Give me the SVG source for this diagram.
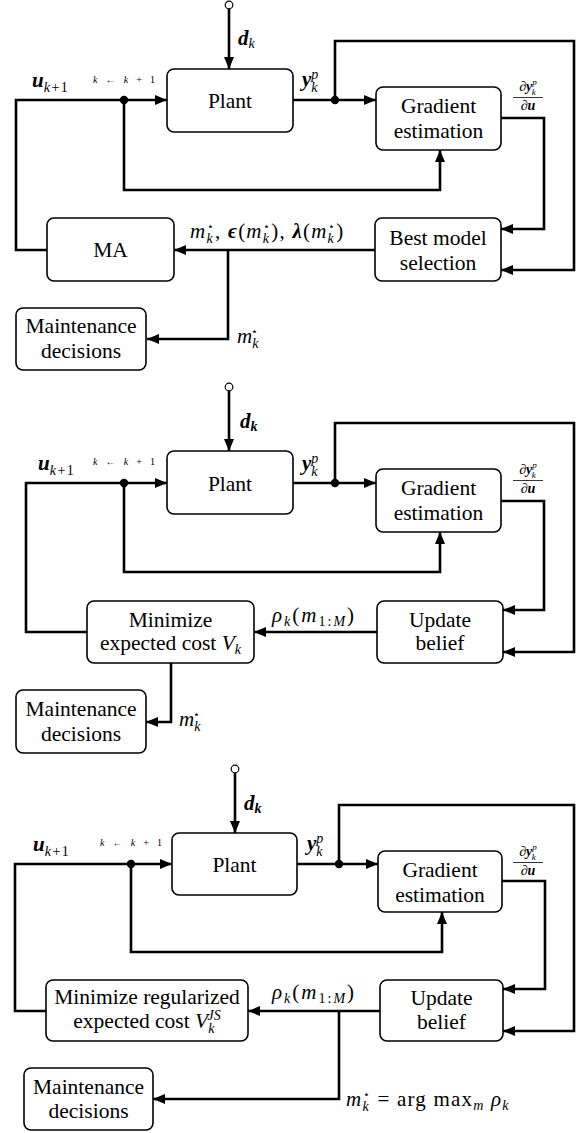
<svg xmlns="http://www.w3.org/2000/svg" width="587" height="1133" viewBox="0 0 587 1133" font-family="'Liberation Serif', 'DejaVu Serif', serif">
<defs>
<style>
.box{fill:#fff;stroke:#000;stroke-width:1.6}
.ln{fill:none;stroke:#000;stroke-width:2.6;marker-end:url(#ah)}
.dot{fill:#000}
.src{fill:#fff;stroke:#000;stroke-width:1.2}
.t{font-size:21.5px;text-anchor:middle}
.m{font-size:21px}
.it{font-style:italic}
.bi{font-style:italic;font-weight:bold}
.sc{font-size:14px}
.ss{font-size:11px}
.fs{font-size:9px}
.tiny{font-size:10px}
.fr{font-size:14px;text-anchor:middle}
.wide{letter-spacing:1.2px}
</style>
<marker id="ah" markerUnits="userSpaceOnUse" markerWidth="12" markerHeight="10" refX="12" refY="5" orient="auto">
<path d="M0,0 L12,5 L0,10 z" fill="#000"/>
</marker>
</defs>
<rect width="587" height="1133" fill="#fff"/>

<!-- ================= PANEL 1 ================= -->
<g id="connectors1">
<path class="ln" d="M229,9 V69"/>
<path class="ln" d="M47,250 H16 V100 H167"/>
<path class="ln" d="M124,100 V190 H440 V150"/>
<path class="ln" d="M293,100 H376"/>
<path class="ln" d="M335,100 V41 H574 V270 H501"/>
<path class="ln" d="M501,118 H544 V229 H501"/>
<path class="ln" d="M375,250 H174"/>
<path class="ln" d="M228,250 V339 H147"/>
<circle class="dot" cx="124" cy="100" r="4.2"/>
<circle class="dot" cx="335" cy="100" r="4.2"/>
<circle class="src" cx="229" cy="5" r="3.8"/>
</g>
<g id="labels1">
<text class="m" x="238" y="45"><tspan class="bi">d</tspan><tspan class="it sc" dy="3">k</tspan></text>
<text class="m" x="32" y="87"><tspan class="bi">u</tspan><tspan class="sc" dy="5" letter-spacing="1.5"><tspan class="it">k</tspan>+1</tspan></text>
<text class="tiny" x="93" y="83" textLength="62" lengthAdjust="spacing"><tspan class="it">k</tspan> ← <tspan class="it">k</tspan> + 1</text>
<text class="m" x="302" y="86"><tspan class="bi">y</tspan><tspan class="it sc" dy="-7">p</tspan><tspan class="it sc" dx="-7" dy="13">k</tspan></text>
<text class="fr" x="528" y="91">∂<tspan class="bi">y</tspan><tspan class="it fs" dy="-6">p</tspan><tspan class="it fs" dx="-5" dy="10">k</tspan></text>
<line x1="513" y1="97.5" x2="543" y2="97.5" stroke="#000" stroke-width="0.8"/>
<text class="fr" x="528" y="110">∂<tspan class="bi">u</tspan></text>
<text class="m wide" x="190" y="238"><tspan class="it">m</tspan><tspan class="it sc" dy="5">k</tspan><tspan class="ss" dx="-7" dy="-13">⋆</tspan><tspan dy="8">, </tspan><tspan class="bi">ϵ</tspan>(<tspan class="it">m</tspan><tspan class="it sc" dy="5">k</tspan><tspan class="ss" dx="-7" dy="-13">⋆</tspan><tspan dy="8">), </tspan><tspan class="bi">λ</tspan>(<tspan class="it">m</tspan><tspan class="it sc" dy="5">k</tspan><tspan class="ss" dx="-7" dy="-13">⋆</tspan><tspan dy="8">)</tspan></text>
<text class="m" x="237" y="343"><tspan class="it">m</tspan><tspan class="it sc" dy="5">k</tspan><tspan class="ss" dx="-7" dy="-13">⋆</tspan></text>
</g>
<g id="plant1"><rect class="box" x="167" y="69" width="126" height="63" rx="7"/><text class="t" x="230" y="108">Plant</text></g>
<g id="gradient1"><rect class="box" x="376" y="87" width="125" height="63" rx="7"/><text class="t" x="438.5" y="113">Gradient</text><text class="t" x="438.5" y="138">estimation</text></g>
<g id="ma1"><rect class="box" x="47" y="218" width="127" height="63" rx="7"/><text class="t" x="110.5" y="257">MA</text></g>
<g id="best1"><rect class="box" x="375" y="218" width="126" height="63" rx="7"/><text class="t" x="438" y="245">Best model</text><text class="t" x="438" y="270">selection</text></g>
<g id="maint1"><rect class="box" x="16" y="308" width="130" height="62" rx="7"/><text class="t" x="81" y="333">Maintenance</text><text class="t" x="81" y="358">decisions</text></g>

<!-- ================= PANEL 2 ================= -->
<g id="connectors2">
<path class="ln" d="M229,391 V451"/>
<path class="ln" d="M87,632 H26 V483 H167"/>
<path class="ln" d="M124,483 V572 H440 V532"/>
<path class="ln" d="M293,483 H376"/>
<path class="ln" d="M335,483 V423 H574 V652 H503"/>
<path class="ln" d="M501,501 H544 V610 H503"/>
<path class="ln" d="M377,632 H254"/>
<path class="ln" d="M171,663 V722 H146"/>
<circle class="dot" cx="124" cy="483" r="4.2"/>
<circle class="dot" cx="335" cy="483" r="4.2"/>
<circle class="src" cx="229" cy="387" r="3.8"/>
</g>
<g id="labels2">
<text class="m" x="240" y="428"><tspan class="bi">d</tspan><tspan class="bi sc" dy="3">k</tspan></text>
<text class="m" x="38" y="470"><tspan class="bi">u</tspan><tspan class="sc" dy="5" letter-spacing="1.5"><tspan class="it">k</tspan>+1</tspan></text>
<text class="tiny" x="93" y="465" textLength="62" lengthAdjust="spacing"><tspan class="it">k</tspan> ← <tspan class="it">k</tspan> + 1</text>
<text class="m" x="302" y="470"><tspan class="bi">y</tspan><tspan class="it sc" dy="-7">p</tspan><tspan class="it sc" dx="-7" dy="13">k</tspan></text>
<text class="fr" x="528" y="474">∂<tspan class="bi">y</tspan><tspan class="it fs" dy="-6">p</tspan><tspan class="it fs" dx="-5" dy="10">k</tspan></text>
<line x1="513" y1="480.5" x2="543" y2="480.5" stroke="#000" stroke-width="0.8"/>
<text class="fr" x="528" y="493">∂<tspan class="bi">u</tspan></text>
<text class="m" x="272" y="622" letter-spacing="2"><tspan class="it">ρ</tspan><tspan class="it sc" dy="4">k</tspan><tspan dy="-4">(</tspan><tspan class="it">m</tspan><tspan class="sc" dy="4">1:<tspan class="it">M</tspan></tspan><tspan dy="-4">)</tspan></text>
<text class="m" x="179" y="726"><tspan class="it">m</tspan><tspan class="it sc" dy="5">k</tspan><tspan class="ss" dx="-7" dy="-13">⋆</tspan></text>
</g>
<g id="plant2"><rect class="box" x="167" y="451" width="126" height="63" rx="7"/><text class="t" x="230" y="491">Plant</text></g>
<g id="gradient2"><rect class="box" x="376" y="469" width="125" height="63" rx="7"/><text class="t" x="438.5" y="495">Gradient</text><text class="t" x="438.5" y="520">estimation</text></g>
<g id="minimize2"><rect class="box" x="87" y="601" width="167" height="62" rx="7"/><text class="t" x="170.5" y="627">Minimize</text><text class="t" x="170.5" y="650">expected cost <tspan class="it">V</tspan><tspan class="it sc" dy="4">k</tspan></text></g>
<g id="update2"><rect class="box" x="377" y="601" width="126" height="62" rx="7"/><text class="t" x="440" y="627">Update</text><text class="t" x="440" y="650">belief</text></g>
<g id="maint2"><rect class="box" x="16" y="690" width="130" height="63" rx="7"/><text class="t" x="81" y="716">Maintenance</text><text class="t" x="81" y="741">decisions</text></g>

<!-- ================= PANEL 3 ================= -->
<g id="connectors3">
<path class="ln" d="M235,773 V833"/>
<path class="ln" d="M46,1011 H15 V864 H172"/>
<path class="ln" d="M131,864 V952 H442 V912"/>
<path class="ln" d="M297,864 H378"/>
<path class="ln" d="M339,864 V805 H574 V1031 H503"/>
<path class="ln" d="M502,881 H545 V989 H503"/>
<path class="ln" d="M380,1011 H248"/>
<path class="ln" d="M339,1011 V1099 H153"/>
<circle class="dot" cx="131" cy="864" r="4.2"/>
<circle class="dot" cx="339" cy="864" r="4.2"/>
<circle class="src" cx="235" cy="769" r="3.8"/>
</g>
<g id="labels3">
<text class="m" x="244" y="810"><tspan class="bi">d</tspan><tspan class="bi sc" dy="3">k</tspan></text>
<text class="m" x="33" y="851"><tspan class="bi">u</tspan><tspan class="sc" dy="5" letter-spacing="1.5"><tspan class="it">k</tspan>+1</tspan></text>
<text class="tiny" x="100" y="846" textLength="62" lengthAdjust="spacing"><tspan class="it">k</tspan> ← <tspan class="it">k</tspan> + 1</text>
<text class="m" x="307" y="850"><tspan class="bi">y</tspan><tspan class="it sc" dy="-7">p</tspan><tspan class="it sc" dx="-7" dy="13">k</tspan></text>
<text class="fr" x="528" y="856">∂<tspan class="bi">y</tspan><tspan class="it fs" dy="-6">p</tspan><tspan class="it fs" dx="-5" dy="10">k</tspan></text>
<line x1="513" y1="862.5" x2="543" y2="862.5" stroke="#000" stroke-width="0.8"/>
<text class="fr" x="528" y="875">∂<tspan class="bi">u</tspan></text>
<text class="m" x="272" y="999" letter-spacing="2"><tspan class="it">ρ</tspan><tspan class="it sc" dy="4">k</tspan><tspan dy="-4">(</tspan><tspan class="it">m</tspan><tspan class="sc" dy="4">1:<tspan class="it">M</tspan></tspan><tspan dy="-4">)</tspan></text>
<text class="m wide" x="346" y="1106"><tspan class="it">m</tspan><tspan class="it sc" dy="5">k</tspan><tspan class="ss" dx="-7" dy="-13">⋆</tspan><tspan dy="8"> = arg max</tspan><tspan class="it sc" dy="4">m</tspan><tspan dy="-4"> </tspan><tspan class="it">ρ</tspan><tspan class="it sc" dy="4">k</tspan></text>
</g>
<g id="plant3"><rect class="box" x="172" y="833" width="125" height="62" rx="7"/><text class="t" x="234.5" y="872">Plant</text></g>
<g id="gradient3"><rect class="box" x="378" y="851" width="124" height="61" rx="7"/><text class="t" x="440" y="877">Gradient</text><text class="t" x="440" y="902">estimation</text></g>
<g id="minimize3"><rect class="box" x="46" y="980" width="202" height="61" rx="7"/><text class="t" x="147" y="1004">Minimize regularized</text><text class="t" x="147" y="1028">expected cost <tspan class="it">V</tspan><tspan class="it sc" dy="5">k</tspan><tspan class="it sc" dx="-7" dy="-13">JS</tspan></text></g>
<g id="update3"><rect class="box" x="380" y="980" width="123" height="61" rx="7"/><text class="t" x="441.5" y="1005">Update</text><text class="t" x="441.5" y="1029">belief</text></g>
<g id="maint3"><rect class="box" x="24" y="1068" width="129" height="62" rx="7"/><text class="t" x="88.5" y="1094">Maintenance</text><text class="t" x="88.5" y="1118">decisions</text></g>
</svg>
